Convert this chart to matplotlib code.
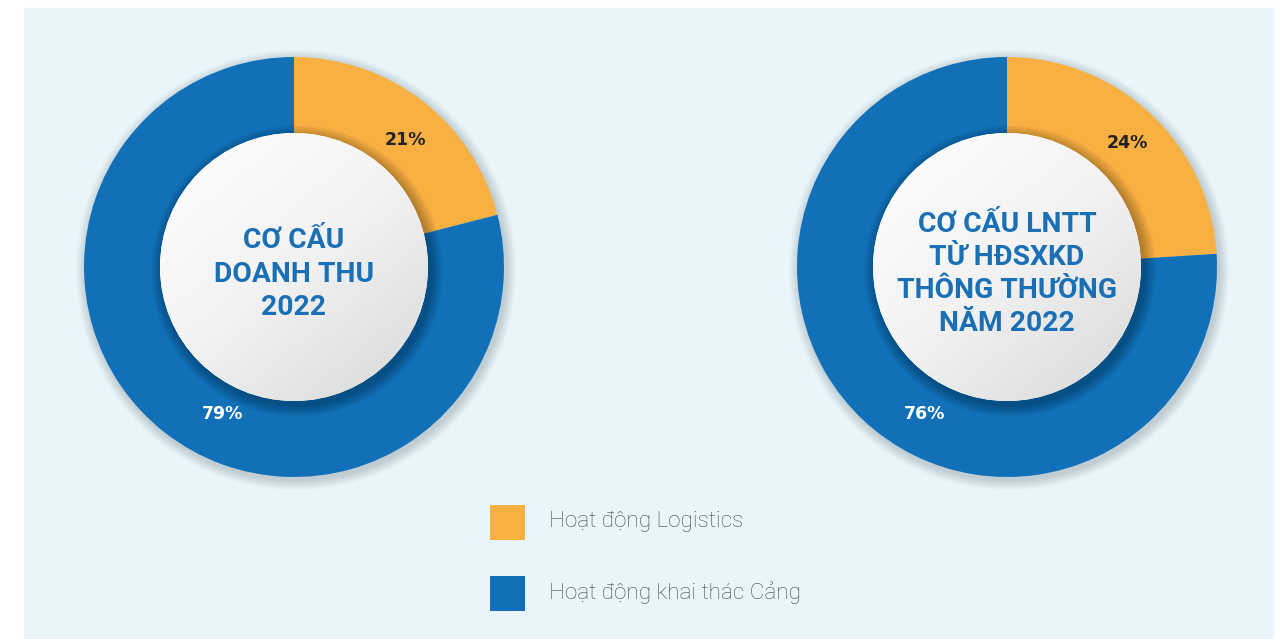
import numpy as np
import matplotlib.pyplot as plt
from matplotlib.patches import Circle, Rectangle
from matplotlib.colors import LinearSegmentedColormap

# data
categories = ['Hoạt động Logistics', 'Hoạt động khai thác Cảng']
doanh_thu = [21, 79]
lntt = [24, 76]
pct_labels = [['21%', '79%'], ['24%', '76%']]
titles = ['CƠ CẤU\nDOANH THU\n2022',
          'CƠ CẤU LNTT\nTỪ HĐSXKD\nTHÔNG THƯỜNG\nNĂM 2022']

colors = ['#f9b043', '#1170b7']
bg = '#e8f6fb'
W, H = 1288, 639

fig = plt.figure(figsize=(W / 100, H / 100), dpi=100)
ax = fig.add_axes([0, 0, 1, 1])
ax.axis('off')

# panel background
ax.add_patch(Rectangle((24, 8), 1249, 640, color=bg, zorder=0))

centers = [(294, 267), (1007, 267)]
R_out, R_in = 210, 134
# label offsets from centre (pixels, y down)
lab_off = [[(111, -127), (-71, 147)], [(120, -124), (-82, 147)]]
lab_col = ['#222222', 'white']

gray_cmap = LinearSegmentedColormap.from_list('g', ['#ffffff', '#f2f2f2', '#d8d8d8'])
yy, xx = np.mgrid[0:1:200j, 0:1:200j]
grad = (xx * 0.45 + yy * 0.55)

for k, vals in enumerate([doanh_thu, lntt]):
    cx, cy = centers[k]
    # soft outer shadow
    for i in range(10):
        ax.add_patch(Circle((cx + 2, cy + 3), R_out + 1 + i, color='black',
                            alpha=0.016, lw=0, zorder=1))
    ax.pie(vals, colors=colors, center=(cx, cy), radius=R_out,
           startangle=-90, counterclock=True,
           wedgeprops=dict(width=R_out - R_in + 2, linewidth=0, zorder=2))
    # shadow of the inner disc on the ring
    for i in range(12):
        ax.add_patch(Circle((cx + 3, cy + 4), R_in + 12 - i, color='black',
                            alpha=0.022, lw=0, zorder=3))
    disc = Circle((cx, cy), R_in, facecolor='white', lw=0, zorder=4)
    ax.add_patch(disc)
    im = ax.imshow(grad, cmap=gray_cmap, extent=(cx - R_in, cx + R_in, cy + R_in, cy - R_in),
                   origin='upper', zorder=5, interpolation='bilinear')
    im.set_clip_path(disc)

    ax.text(cx, cy + 7, titles[k], ha='center', va='center', color='#1a6fb5',
            fontsize=20.3, fontweight='bold', family='Roboto',
            linespacing=1.3, zorder=6)
    for j in range(2):
        dx, dy = lab_off[k][j]
        ax.text(cx + dx, cy + dy, pct_labels[k][j], ha='center', va='center',
                color=lab_col[j], fontsize=12.5, fontweight='bold', family='DejaVu Sans', zorder=6)

# legend
for j, lab in enumerate(categories):
    y0 = 505 + j * 71
    ax.add_patch(Rectangle((490, y0), 35, 35, color=colors[j], lw=0, zorder=2))
    ax.text(549, y0 + 17, lab, ha='left', va='center', color='#4a4a4a',
            fontsize=16.2, fontweight='light', family='Roboto', zorder=2)

ax.set_xlim(0, W)
ax.set_ylim(H, 0)
ax.set_aspect('auto')
fig.savefig('out.png', dpi=100, facecolor='white')
